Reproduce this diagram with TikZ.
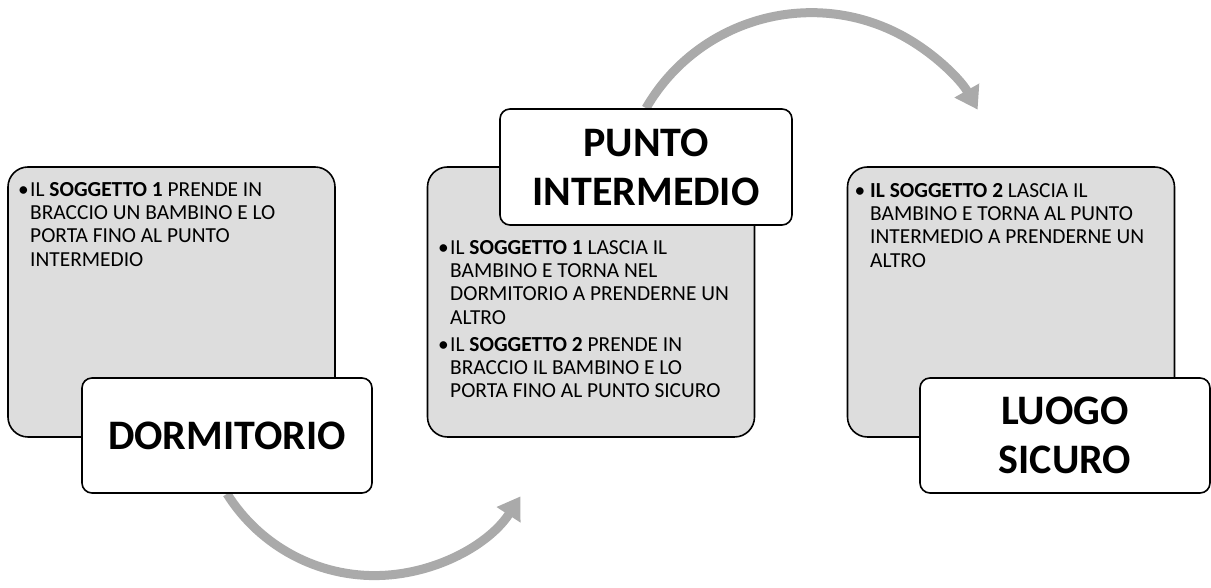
\documentclass[tikz,border=0pt]{standalone}
\usepackage{fontspec}
\setmainfont{Carlito}
\usetikzlibrary{arrows.meta,backgrounds}
\definecolor{boxgray}{RGB}{221,221,221}
\definecolor{arrowgray}{RGB}{170,170,170}
\begin{document}
\begin{tikzpicture}[x=1pt,y=1pt,
  graybox/.style={draw=black, line width=1.6pt, fill=boxgray, rounded corners=20pt, minimum width=327pt, minimum height=270pt, inner sep=0pt},
  titlebox/.style={draw=black, line width=1.6pt, fill=white, rounded corners=10pt, minimum width=290pt, minimum height=115pt, inner sep=0pt, align=center, font=\fontsize{42}{49}\selectfont\bfseries},
  bodytext/.style={anchor=north west, inner sep=0pt, align=left, font=\fontsize{21.4}{23.3}\selectfont},
  flow/.style={draw=arrowgray, line width=9pt, -{Triangle[length=22pt,width=27pt]}}
]
\useasboundingbox (0,0) rectangle (1211,588);

\node[graybox] (g1) at (171.5,286) {};
\node[graybox] (g2) at (591,286) {};
\node[graybox] (g3) at (1011,286) {};

\node[bodytext] (t1) at (30,406) {\llap{•\hspace{1.5pt}}IL \textbf{SOGGETTO 1} PRENDE IN\\BRACCIO UN BAMBINO E LO\\PORTA FINO AL PUNTO\\INTERMEDIO};
\node[bodytext] (t2a) at (450,348) {\llap{•\hspace{1.5pt}}IL \textbf{SOGGETTO 1} LASCIA IL\\BAMBINO E TORNA NEL\\DORMITORIO A PRENDERNE UN\\ALTRO};
\node[bodytext] (t2b) at (450,251) {\llap{•\hspace{1.5pt}}IL \textbf{SOGGETTO 2} PRENDE IN\\BRACCIO IL BAMBINO E LO\\PORTA FINO AL PUNTO SICURO};
\node[bodytext] (t3) at (870,405) {\llap{•\ }\textbf{IL SOGGETTO 2} LASCIA IL\\BAMBINO E TORNA AL PUNTO\\INTERMEDIO A PRENDERNE UN\\ALTRO};

\node[titlebox] (dorm) at (227,152.5) {DORMITORIO};
\node[titlebox, minimum width=292pt, minimum height=116pt] (punto) at (646,421) {PUNTO\\INTERMEDIO};
\node[titlebox] (luogo) at (1065,152.5) {LUOGO\\SICURO};

\begin{scope}[on background layer]
  \draw[flow] (dorm.south) arc[start angle=212, end angle=327, radius=174];
  \draw[flow] (punto.north) arc[start angle=150, end angle=29.5, radius=191];
\end{scope}
\end{tikzpicture}
\end{document}
